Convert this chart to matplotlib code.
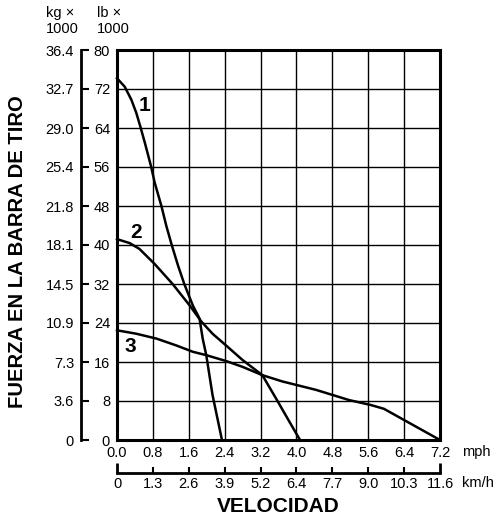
import numpy as np
import matplotlib.pyplot as plt

plt.rcParams['font.family'] = ['Liberation Sans', 'DejaVu Sans']

# ejes
mph_ticks = [0.0, 0.8, 1.6, 2.4, 3.2, 4.0, 4.8, 5.6, 6.4, 7.2]
kmh_labels = ['0', '1.3', '2.6', '3.9', '5.2', '6.4', '7.7', '9.0', '10.3', '11.6']
lb_ticks = [0, 8, 16, 24, 32, 40, 48, 56, 64, 72, 80]
kg_labels = ['0', '3.6', '7.3', '10.9', '14.5', '18.1', '21.8', '25.4', '29.0', '32.7', '36.4']

# curvas (mph, lb x 1000)
x1 = [0.0, 0.17, 0.32, 0.43, 0.52, 0.62, 0.76, 0.84, 0.99, 1.10, 1.22, 1.36,
      1.50, 1.69, 1.84, 1.91, 1.99, 2.13, 2.34]
y1 = [74.2, 72.5, 69.8, 67.1, 64.3, 61.0, 56.1, 52.8, 48.0, 43.9, 40.0, 35.8,
      32.0, 27.6, 24.9, 20.8, 17.4, 9.2, 0.0]
x2 = [0.0, 0.28, 0.50, 0.84, 1.24, 1.62, 1.88, 2.13, 2.43, 2.80, 3.24, 3.54, 3.84, 4.08]
y2 = [41.2, 40.4, 39.2, 36.1, 32.0, 27.6, 24.3, 21.8, 19.4, 16.4, 13.3, 8.6, 3.8, 0.0]
x3 = [0.0, 0.43, 0.88, 1.32, 1.69, 1.99, 2.43, 2.80, 3.24, 3.69, 4.43, 5.17, 5.65, 5.95, 7.2]
y3 = [22.5, 21.8, 20.8, 19.4, 18.1, 17.4, 16.2, 15.0, 13.3, 12.0, 10.3, 8.2, 7.2, 6.4, 0.0]

W, H = 504, 522
fig = plt.figure(figsize=(W / 100, H / 100), dpi=100)

L, R, T, B = 117, 440, 50, 440
ax = fig.add_axes([L / W, 1 - B / H, (R - L) / W, (B - T) / H])
ax.set_xlim(0, 7.2)
ax.set_ylim(0, 80)
ax.set_xticks(mph_ticks)
ax.set_xticklabels(['%.1f' % v for v in mph_ticks])
ax.set_yticks(lb_ticks)
ax.grid(True, color='black', linewidth=1.0)
ax.tick_params(length=0, labelsize=10.5, pad=4.5)
ax.tick_params(axis='y', pad=5)
for s in ax.spines.values():
    s.set_linewidth(2.2)

for xs, ys in [(x1, y1), (x2, y2), (x3, y3)]:
    ax.plot(xs, ys, color='black', linewidth=1.8, clip_on=False)

ax.text(0.62, 68.6, '1', fontsize=15, fontweight='bold', ha='center', va='center')
ax.text(0.43, 42.6, '2', fontsize=15, fontweight='bold', ha='center', va='center')
ax.text(0.30, 19.1, '3', fontsize=15, fontweight='bold', ha='center', va='center')
fig.text(462 / W, 1 - 452 / H, 'mph', fontsize=10.5, va='center', ha='left')

# eje kg
axk = fig.add_axes([81 / W, 1 - B / H, 0.001, (B - T) / H])
axk.set_ylim(0, 80)
axk.set_yticks(lb_ticks)
axk.set_yticklabels(kg_labels)
axk.set_xticks([])
for k in ['top', 'right', 'bottom']:
    axk.spines[k].set_visible(False)
axk.spines['left'].set_linewidth(2)
axk.tick_params(axis='y', direction='in', length=6, width=1.5, labelsize=10.5, pad=5)
axk.patch.set_alpha(0)

# eje km/h
axv = fig.add_axes([L / W, 1 - 473 / H, (R - L) / W, 0.001])
axv.set_xlim(0, 7.2)
axv.set_xticks([0, 7.2])
axv.set_xticklabels([kmh_labels[0], kmh_labels[-1]])
axv.set_xticks(mph_ticks[1:-1], minor=True)
axv.set_xticklabels(kmh_labels[1:-1], minor=True)
axv.set_yticks([])
for k in ['top', 'right', 'left']:
    axv.spines[k].set_visible(False)
axv.spines['bottom'].set_linewidth(2)
axv.tick_params(axis='x', which='major', direction='in', length=7, width=2, labelsize=10.5, pad=3)
axv.tick_params(axis='x', which='minor', direction='in', length=4, width=1.5, labelsize=10.5, pad=3)
axv.patch.set_alpha(0)
fig.text(462 / W, 1 - 483 / H, 'km/h', fontsize=10.5, va='center', ha='left')

fig.text(46 / W, 1 - 21 / H, 'kg \u00d7\n1000', fontsize=10.5, va='center', ha='left', linespacing=1.25)
fig.text(97 / W, 1 - 21 / H, 'lb \u00d7\n1000', fontsize=10.5, va='center', ha='left', linespacing=1.25)

fig.text(18 / W, 1 - 252 / H, 'FUERZA EN LA BARRA DE TIRO', rotation=90, fontsize=14.6,
         fontweight='bold', ha='center', va='center')
fig.text(278 / W, 1 - 507 / H, 'VELOCIDAD', fontsize=15, fontweight='bold',
         ha='center', va='center')

fig.savefig('out.png', dpi=100)
